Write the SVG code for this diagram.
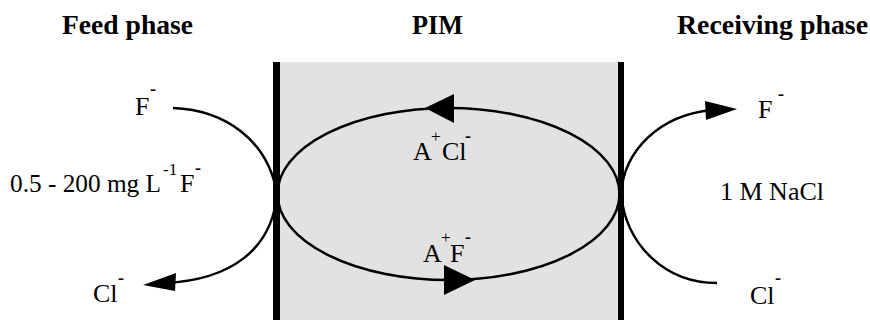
<svg xmlns="http://www.w3.org/2000/svg" width="870" height="320" viewBox="0 0 870 320">
<style>
text{font-family:"Liberation Serif","Times New Roman",serif;fill:#000}
.title{font-size:27px;font-weight:bold}
.lbl{font-size:26px}
.sup{font-size:17px}
.dash{font-size:18px;font-weight:bold}
.line{fill:none;stroke:#000;stroke-width:2.5}
.head{fill:#000;stroke:none}
</style>
<rect x="0" y="0" width="870" height="320" fill="#fff"/>
<g id="membrane">
<rect x="280" y="62" width="338" height="258" fill="#e2e2e2"/>
<rect x="273" y="62" width="7" height="258" fill="#000"/>
<rect x="618" y="62" width="6" height="258" fill="#000"/>
</g>
<g id="titles">
<text class="title" x="62" y="34" textLength="131" lengthAdjust="spacingAndGlyphs">Feed phase</text>
<text class="title" x="412" y="34" textLength="51" lengthAdjust="spacingAndGlyphs">PIM</text>
<text class="title" x="677" y="34" textLength="191" lengthAdjust="spacingAndGlyphs">Receiving phase</text>
</g>
<g id="connectors">
<ellipse class="line" cx="448.5" cy="194" rx="171" ry="86"/>
<polygon class="head" points="425,108 454,94 454,123"/>
<polygon class="head" points="475,280 444,265 444,295"/>
<path class="line" d="M173,108 C225,110 268,140 277,194"/>
<path class="line" d="M277,194 C272,250 230,280 165,283"/>
<polygon class="head" points="143,285 176,273 175,291"/>
<path class="line" d="M621,194 C624,150 660,115 712,110"/>
<polygon class="head" points="737,109 705,101 706,120"/>
<path class="line" d="M621,194 C626,245 665,283 717,283"/>
</g>
<g id="feed">
<text class="lbl" x="135" y="115">F</text><text class="sup dash" x="150" y="95">-</text>
<text class="lbl" x="10" y="192" textLength="151" lengthAdjust="spacingAndGlyphs">0.5 - 200 mg L</text><text class="sup" x="163" y="175">-1</text>
<text class="lbl" x="180" y="192">F</text><text class="sup dash" x="195" y="174">-</text>
<text class="lbl" x="93" y="302">Cl</text><text class="sup dash" x="118" y="284">-</text>
</g>
<g id="pim">
<text class="lbl" x="413" y="160">A</text><text class="sup" x="431" y="142">+</text>
<text class="lbl" x="442" y="160">Cl</text><text class="sup dash" x="465" y="142">-</text>
<text class="lbl" x="423" y="262">A</text><text class="sup" x="441" y="243">+</text>
<text class="lbl" x="450" y="262">F</text><text class="sup dash" x="465" y="243">-</text>
</g>
<g id="receiving">
<text class="lbl" x="758" y="118">F</text><text class="sup dash" x="778" y="100">-</text>
<text class="lbl" x="720" y="200" font-size="24">1 M NaCl</text>
<text class="lbl" x="750" y="304">Cl</text><text class="sup dash" x="775" y="284">-</text>
</g>
</svg>
